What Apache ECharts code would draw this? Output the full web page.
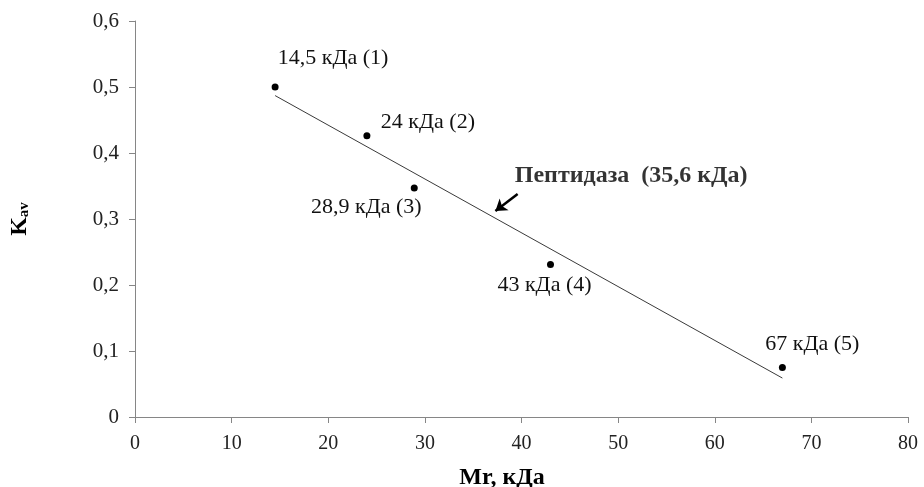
<!DOCTYPE html>
<html>
<head>
<meta charset="utf-8">
<script src="https://cdn.jsdelivr.net/npm/echarts@6/dist/echarts.min.js"></script>
<style>
html,body{margin:0;padding:0;background:#fff;}
#chart{width:924px;height:487px;}
</style>
</head>
<body>
<div id="chart"></div>
<script>
// Data
const mass = [14.5, 24, 28.9, 43, 67];
const kav = [0.5, 0.426, 0.347, 0.231, 0.075];
const pointLabels = ['14,5 кДа (1)', '24 кДа (2)', '28,9 кДа (3)', '43 кДа (4)', '67 кДа (5)'];
const trendX = [14.5, 67];
const trendY = [0.487, 0.059];
const arrowFrom = [39.6, 0.338];
const arrowTo = [37.3, 0.312];
const peptidaseLabel = 'Пептидаза  (35,6 кДа)';
const peptidasePos = [39.3, 0.366];
const xTicks = [0, 10, 20, 30, 40, 50, 60, 70, 80];
const yTicks = [0, 0.1, 0.2, 0.3, 0.4, 0.5, 0.6];

const FONT = '"Liberation Serif", "Times New Roman", serif';
// label offsets relative to each point (style only)
const labelOffsets = [[58, -29], [61, -14], [-48, 19], [-6, 21], [30, -23]];

const chart = echarts.init(document.getElementById('chart'));
const fmt = v => String(Math.round(v * 10) / 10).replace('.', ',');

chart.setOption({
  backgroundColor: '#fff',
  animation: false,
  grid: {left: 135, right: 16, top: 21, bottom: 70, outerBoundsMode: 'none', containLabel: false},
  xAxis: {
    type: 'value', min: xTicks[0], max: xTicks[xTicks.length - 1], interval: 10,
    name: 'Mr, кДа', nameLocation: 'middle', nameGap: 49,
    nameTextStyle: {fontFamily: FONT, fontSize: 24, fontWeight: 'bold', color: '#000', padding: [0, 39, 0, 0]},
    axisLine: {lineStyle: {color: '#868686', width: 1}},
    axisTick: {show: true, length: 6, lineStyle: {color: '#868686'}},
    axisLabel: {fontFamily: FONT, fontSize: 20, color: '#222', margin: 17, formatter: fmt},
    splitLine: {show: false}
  },
  yAxis: {
    type: 'value', min: yTicks[0], max: yTicks[yTicks.length - 1], interval: 0.1,
    name: '{k|K}{s|av}', nameLocation: 'middle', nameGap: 103, nameRotate: 90,
    nameTextStyle: {
      rich: {
        k: {fontFamily: FONT, fontSize: 24, fontWeight: 'bold', color: '#000'},
        s: {fontFamily: FONT, fontSize: 15, fontWeight: 'bold', color: '#000', padding: [10, 0, 0, 0]}
      }
    },
    axisLine: {show: true, lineStyle: {color: '#868686', width: 1}},
    axisTick: {show: true, length: 6, lineStyle: {color: '#868686'}},
    axisLabel: {fontFamily: FONT, fontSize: 21, color: '#222', margin: 16, formatter: fmt},
    splitLine: {show: false}
  },
  series: [
    {
      type: 'line',
      data: trendX.map((x, i) => [x, trendY[i]]),
      showSymbol: false, symbol: 'none',
      lineStyle: {color: '#3a3a3a', width: 1},
      z: 2,
      markLine: {
        silent: true,
        symbol: ['none', 'arrow'],
        symbolSize: 11,
        lineStyle: {color: '#000', width: 2.5, type: 'solid'},
        label: {show: false},
        emphasis: {disabled: true},
        data: [[{coord: arrowFrom}, {coord: arrowTo}]]
      }
    },
    {
      type: 'scatter',
      data: mass.map((x, i) => ({
        value: [x, kav[i]],
        label: {offset: labelOffsets[i]}
      })),
      symbol: 'circle', symbolSize: 7,
      itemStyle: {color: '#000', opacity: 1},
      label: {
        show: true, position: 'inside',
        formatter: p => pointLabels[p.dataIndex],
        fontFamily: FONT, fontSize: 22, color: '#111'
      },
      z: 3
    },
    {
      type: 'scatter',
      data: [peptidasePos],
      symbolSize: 0,
      label: {
        show: true, position: 'right', distance: 0,
        formatter: peptidaseLabel,
        fontFamily: FONT, fontSize: 24, fontWeight: 'bold', color: '#000'
      }
    }
  ]
});
</script>
</body>
</html>
